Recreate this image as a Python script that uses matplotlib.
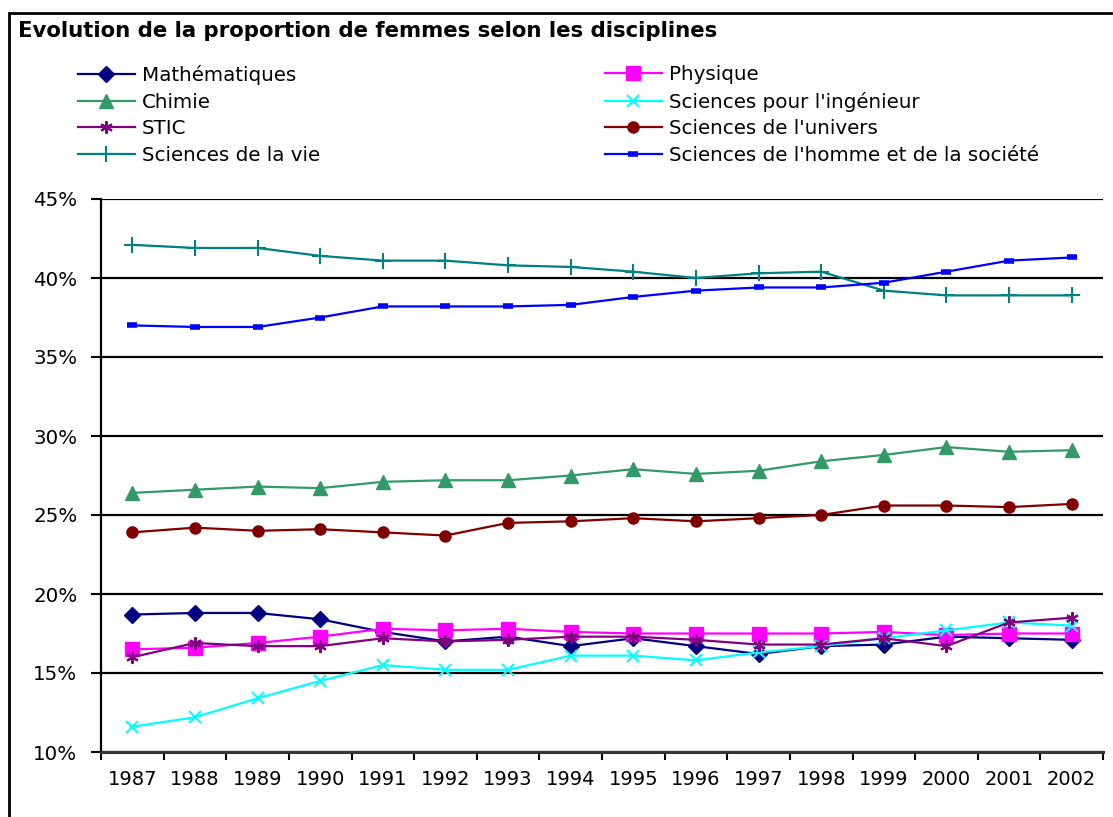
import matplotlib.pyplot as plt
from matplotlib.patches import Rectangle
from matplotlib.ticker import FixedLocator, FuncFormatter
import numpy as np

years = ['1987', '1988', '1989', '1990', '1991', '1992', '1993', '1994',
         '1995', '1996', '1997', '1998', '1999', '2000', '2001', '2002']

maths = [18.7, 18.8, 18.8, 18.4, 17.6, 17.0, 17.3, 16.7,
         17.2, 16.7, 16.2, 16.7, 16.8, 17.3, 17.2, 17.1]
physique = [16.5, 16.6, 16.9, 17.3, 17.8, 17.7, 17.8, 17.6,
            17.5, 17.5, 17.5, 17.5, 17.6, 17.4, 17.5, 17.5]
chimie = [26.4, 26.6, 26.8, 26.7, 27.1, 27.2, 27.2, 27.5,
          27.9, 27.6, 27.8, 28.4, 28.8, 29.3, 29.0, 29.1]
spi = [11.6, 12.2, 13.4, 14.5, 15.5, 15.2, 15.2, 16.1,
       16.1, 15.8, 16.3, 16.7, 17.2, 17.7, 18.2, 18.0]
stic = [16.0, 16.9, 16.7, 16.7, 17.2, 17.0, 17.1, 17.3,
        17.3, 17.1, 16.8, 16.8, 17.2, 16.7, 18.2, 18.5]
univers = [23.9, 24.2, 24.0, 24.1, 23.9, 23.7, 24.5, 24.6,
           24.8, 24.6, 24.8, 25.0, 25.6, 25.6, 25.5, 25.7]
vie = [42.1, 41.9, 41.9, 41.4, 41.1, 41.1, 40.8, 40.7,
       40.4, 40.0, 40.3, 40.4, 39.2, 38.9, 38.9, 38.9]
shs = [37.0, 36.9, 36.9, 37.5, 38.2, 38.2, 38.2, 38.3,
       38.8, 39.2, 39.4, 39.4, 39.7, 40.4, 41.1, 41.3]

yticks = [10, 15, 20, 25, 30, 35, 40, 45]

plt.rcParams['font.family'] = ['DejaVu Sans']

fig = plt.figure(figsize=(11.13, 8.17), dpi=100)
ax = fig.add_axes([101 / 1113, 1 - 752 / 817, 1002 / 1113, 553 / 817])

x = np.arange(len(years))
series = [
    ('Mathématiques', maths, '#000080', dict(marker='D', markersize=8)),
    ('Physique', physique, '#FF00FF', dict(marker='s', markersize=10)),
    ('Chimie', chimie, '#339966', dict(marker='^', markersize=10)),
    ("Sciences pour l'ingénieur", spi, '#00FFFF', dict(marker='x', markersize=8, markeredgewidth=1.5)),
    ('STIC', stic, '#800080', dict(marker=(6, 2, 0), markersize=9, markeredgewidth=1.5)),
    ("Sciences de l'univers", univers, '#800000', dict(marker='o', markersize=8)),
    ('Sciences de la vie', vie, '#008080', dict(marker='+', markersize=11, markeredgewidth=1.5)),
    ("Sciences de l'homme et de la société", shs, '#0000FF', dict(marker='_', markersize=7, markeredgewidth=4)),
]

handles = {}
for label, vals, color, mk in series:
    line, = ax.plot(x, vals, color=color, linewidth=1.6, label=label,
                    markerfacecolor=color, markeredgecolor=color, **mk)
    handles[label] = line

ax.set_xlim(-0.5, len(years) - 0.5)
ax.set_ylim(10, 45)
ax.set_yticks(yticks)
ax.yaxis.set_major_formatter(FuncFormatter(lambda v, p: f'{v:.0f}%'))
ax.yaxis.grid(True, color='black', linewidth=1.6)
ax.set_axisbelow(True)

# category axis: ticks between categories, labels centred
ax.xaxis.set_major_locator(FixedLocator(np.arange(-0.5, len(years), 1.0)))
ax.xaxis.set_major_formatter(FuncFormatter(lambda v, p: ''))
ax.set_xticks(x, minor=True)
ax.set_xticklabels(years, minor=True)
ax.tick_params(axis='x', which='major', length=6, width=1.5, color='black')
ax.tick_params(axis='x', which='minor', length=0, pad=13, labelsize=14)
ax.tick_params(axis='y', length=7, width=1.5, pad=10, labelsize=14.3)

for s in ['top', 'right']:
    ax.spines[s].set_visible(False)
ax.spines['left'].set_linewidth(1.6)
ax.spines['bottom'].set_linewidth(2.2)
ax.spines['bottom'].set_color('#333333')

# figure frame
fig.patches.append(Rectangle((9 / 1113, -0.05), 1.1, 1.05 - 12.5 / 817,
                             transform=fig.transFigure, fill=False,
                             edgecolor='black', linewidth=2))

fig.text(18 / 1113, 1 - 31 / 817, 'Evolution de la proportion de femmes selon les disciplines',
         fontsize=15.3, fontweight='bold', va='center', ha='left')

col1 = ['Mathématiques', 'Chimie', 'STIC', 'Sciences de la vie']
col2 = ['Physique', "Sciences pour l'ingénieur", "Sciences de l'univers",
        "Sciences de l'homme et de la société"]
leg_kw = dict(frameon=False, fontsize=14.3, handlelength=2.85, handletextpad=0.38,
              labelspacing=0.38, borderpad=0, borderaxespad=0, loc='upper left')
leg1 = fig.legend([handles[k] for k in col1], col1,
                  bbox_to_anchor=(78 / 1113, 1 - 65 / 817), **leg_kw)
leg2 = fig.legend([handles[k] for k in col2], col2,
                  bbox_to_anchor=(605 / 1113, 1 - 65 / 817), **leg_kw)

fig.savefig('out.png', dpi=100)
